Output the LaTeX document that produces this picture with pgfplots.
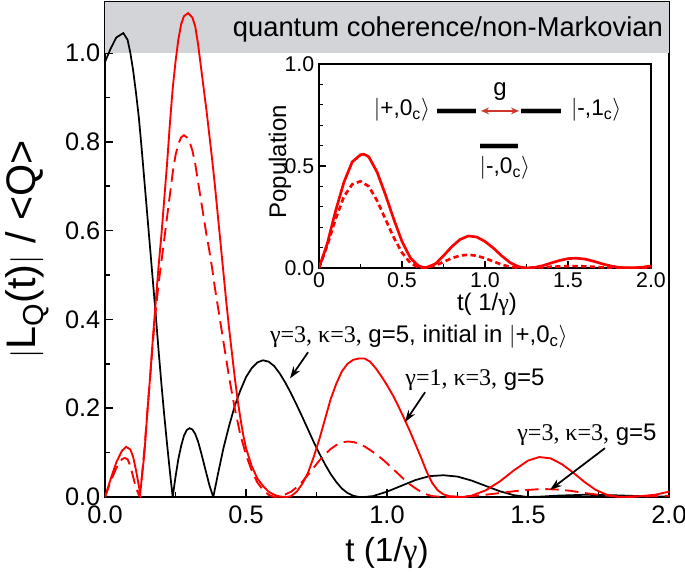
\documentclass[border=0pt]{standalone}
\usepackage{fontspec}
\setmainfont{Liberation Sans}
\newfontfamily\tnr{Liberation Serif}
\usepackage{pgfplots}
\pgfplotsset{compat=1.18}
\usetikzlibrary{arrows.meta}
\definecolor{band}{RGB}{211,212,216}
\definecolor{darrow}{RGB}{205,55,45}
\newcommand{\ket}[1]{$\big|$#1$\big\rangle$}
\begin{document}
\begin{tikzpicture}
\begin{axis}[
  name=main, scale only axis, width=423pt, height=371.25pt,
  xmin=0, xmax=2, ymin=0, ymax=1.115,
  axis line style={line width=1.6pt},
  tick align=inside, xtick pos=bottom, ytick pos=left,
  xtick={0,0.5,1,1.5,2}, xticklabels={0.0,0.5,1.0,1.5,2.0},
  ytick={0,0.2,0.4,0.6,0.8,1.0}, yticklabels={0.0,0.2,0.4,0.6,0.8,1.0},
  minor xtick={0.25,0.75,1.25,1.75}, minor ytick={0.1,0.3,0.5,0.7,0.9,1.1},
  major tick length=6pt, minor tick length=4pt,
  every tick/.style={black, line width=1.2pt},
  tick label style={font=\fontsize{19}{22}\selectfont},
  xticklabel style={yshift=-3pt},
  xlabel={t (1/{\tnr γ})},
  xlabel style={font=\fontsize{25}{28}\selectfont, at={(axis description cs:0.5,-0.113)}, anchor=center},
  ylabel={$|$L\textsubscript{Q}(t)$|$ / {\textless}Q{\textgreater}},
  ylabel style={font=\fontsize{31}{35}\selectfont, at={(axis description cs:-0.138,0.5)}, anchor=center},
]
\fill[band] (axis cs:0,1) rectangle (axis cs:2,1.115);
\node[font=\fontsize{20.5}{24}\selectfont] at (axis cs:1.216,1.054) {quantum coherence/non-Markovian};

% black: gamma=3, kappa=3, g=5, initial in |+,0c>
\addplot[black, line width=1.3pt] coordinates {
(0,0.98)(0.02,1.01)(0.04,1.035)(0.065,1.045)(0.08,1.03)(0.09,1.0)(0.10,0.96)(0.11,0.91)(0.12,0.855)(0.13,0.785)(0.14,0.71)(0.15,0.635)(0.16,0.56)(0.17,0.485)(0.18,0.41)(0.19,0.33)(0.20,0.255)(0.21,0.185)(0.22,0.12)(0.23,0.058)(0.24,0.0)
(0.25,0.045)(0.26,0.085)(0.27,0.115)(0.28,0.138)(0.29,0.151)(0.30,0.155)(0.31,0.152)(0.32,0.142)(0.33,0.125)(0.34,0.102)(0.35,0.077)(0.36,0.052)(0.37,0.027)(0.384,0.0)
(0.40,0.05)(0.42,0.11)(0.44,0.16)(0.46,0.205)(0.48,0.24)(0.50,0.27)(0.52,0.29)(0.54,0.303)(0.56,0.308)(0.58,0.305)(0.60,0.295)(0.62,0.278)(0.64,0.257)(0.66,0.233)(0.68,0.207)(0.70,0.18)(0.72,0.152)(0.74,0.124)(0.76,0.098)(0.78,0.074)(0.80,0.052)(0.82,0.034)(0.84,0.019)(0.86,0.009)(0.88,0.003)(0.90,0.0)
(0.92,0.0)(0.95,0.002)(1.0,0.012)(1.05,0.025)(1.10,0.038)(1.15,0.047)(1.20,0.049)(1.25,0.046)(1.30,0.037)(1.35,0.025)(1.40,0.013)(1.45,0.004)(1.50,0.0)
(1.55,0.001)(1.6,0.003)(1.7,0.005)(1.8,0.004)(1.9,0.002)(2.0,0.001)};

% red solid: gamma=1, kappa=3, g=5
\addplot[red, line width=1.4pt] coordinates {
(0,0)(0.02,0.04)(0.04,0.078)(0.06,0.104)(0.075,0.113)(0.09,0.107)(0.10,0.09)(0.11,0.06)(0.12,0.025)(0.125,0.008)
(0.13,0.04)(0.14,0.10)(0.15,0.19)(0.16,0.27)(0.17,0.36)(0.18,0.44)(0.19,0.52)(0.20,0.59)(0.21,0.67)(0.22,0.75)(0.23,0.84)(0.24,0.92)(0.25,0.98)(0.26,1.03)(0.27,1.065)(0.28,1.083)(0.295,1.09)(0.31,1.08)(0.32,1.06)(0.33,1.02)(0.34,0.97)(0.35,0.92)(0.36,0.87)(0.37,0.815)(0.38,0.76)(0.39,0.70)(0.40,0.635)(0.41,0.57)(0.42,0.505)(0.43,0.44)(0.44,0.38)(0.45,0.325)(0.46,0.27)(0.47,0.22)(0.48,0.178)(0.49,0.14)(0.50,0.11)(0.52,0.07)(0.54,0.042)(0.56,0.025)(0.58,0.012)(0.60,0.005)(0.62,0.001)(0.645,0.0)
(0.66,0.002)(0.68,0.012)(0.70,0.03)(0.72,0.055)(0.74,0.09)(0.76,0.13)(0.78,0.175)(0.80,0.22)(0.82,0.255)(0.84,0.283)(0.86,0.30)(0.88,0.309)(0.90,0.312)(0.92,0.312)(0.94,0.305)(0.96,0.29)(0.98,0.272)(1.00,0.252)(1.02,0.23)(1.04,0.205)(1.06,0.178)(1.08,0.15)(1.10,0.12)(1.12,0.09)(1.14,0.058)(1.16,0.032)(1.18,0.015)(1.20,0.006)(1.22,0.002)(1.27,0.0)
(1.30,0.003)(1.35,0.015)(1.40,0.035)(1.45,0.060)(1.50,0.082)(1.54,0.09)(1.58,0.087)(1.62,0.074)(1.66,0.055)(1.70,0.034)(1.74,0.016)(1.78,0.005)(1.82,0.0)(1.86,0.001)(1.90,0.002)(1.95,0.005)(2.0,0.012)};

% red dashed: gamma=3, kappa=3, g=5
\addplot[red, line width=1.4pt, dash pattern=on 10pt off 5pt] coordinates {
(0,0)(0.02,0.035)(0.04,0.065)(0.06,0.085)(0.07,0.088)(0.08,0.085)(0.09,0.07)(0.10,0.045)(0.11,0.02)(0.12,0.005)
(0.13,0.04)(0.14,0.11)(0.15,0.19)(0.16,0.27)(0.17,0.35)(0.18,0.42)(0.19,0.48)(0.20,0.53)(0.21,0.58)(0.22,0.63)(0.23,0.68)(0.24,0.73)(0.25,0.77)(0.26,0.795)(0.27,0.81)(0.28,0.815)(0.29,0.81)(0.30,0.80)(0.31,0.78)(0.32,0.75)(0.33,0.71)(0.34,0.67)(0.35,0.63)(0.36,0.59)(0.37,0.555)(0.38,0.515)(0.39,0.47)(0.40,0.43)(0.41,0.39)(0.42,0.35)(0.43,0.31)(0.44,0.27)(0.45,0.235)(0.46,0.20)(0.48,0.14)(0.50,0.095)(0.52,0.06)(0.54,0.033)(0.56,0.016)(0.58,0.005)(0.60,0.0)
(0.62,0.002)(0.64,0.006)(0.66,0.012)(0.68,0.022)(0.70,0.035)(0.72,0.05)(0.74,0.066)(0.76,0.082)(0.78,0.096)(0.80,0.108)(0.82,0.117)(0.84,0.123)(0.86,0.125)(0.88,0.124)(0.90,0.12)(0.92,0.114)(0.94,0.106)(0.96,0.097)(0.98,0.087)(1.00,0.076)(1.02,0.064)(1.04,0.052)(1.06,0.04)(1.08,0.029)(1.10,0.02)(1.12,0.012)(1.14,0.006)(1.16,0.002)(1.20,0.0)
(1.25,0.0)(1.30,0.002)(1.35,0.005)(1.40,0.009)(1.45,0.013)(1.50,0.016)(1.55,0.018)(1.60,0.017)(1.65,0.014)(1.70,0.009)(1.75,0.005)(1.80,0.002)(1.85,0.0)(1.9,0.001)(2.0,0.003)};

% annotations
\node[font=\fontsize{18}{21}\selectfont] at (axis cs:1.113,0.36) {{\tnr γ=3, κ=3,} g=5, initial in \ket{+,0\textsubscript{c}}};
\draw[line width=1.3pt, -{Stealth[length=9pt,width=6pt]}] (axis cs:0.72,0.326) -- (axis cs:0.656,0.267);
\node[font=\fontsize{18}{21}\selectfont] at (axis cs:1.312,0.263) {{\tnr γ=1, κ=3,} g=5};
\draw[line width=1.3pt, -{Stealth[length=9pt,width=6pt]}] (axis cs:1.135,0.236) -- (axis cs:1.064,0.169);
\node[font=\fontsize{18}{21}\selectfont] at (axis cs:1.709,0.139) {{\tnr γ=3, κ=3,} g=5};
\draw[line width=1.3pt, -{Stealth[length=9pt,width=6pt]}] (axis cs:1.773,0.11) -- (axis cs:1.578,0.016);
\end{axis}

\begin{axis}[
  at={(160.5pt,171.75pt)}, anchor=south west,
  scale only axis, width=249pt, height=153pt,
  xmin=0, xmax=2, ymin=0, ymax=1,
  axis background/.style={fill=white},
  axis line style={line width=1.4pt},
  tick align=inside, xtick pos=bottom, ytick pos=left,
  xtick={0,0.5,1,1.5,2}, xticklabels={0,0.5,1.0,1.5,2.0},
  ytick={0,0.5,1}, yticklabels={0.0,0.5,1.0},
  minor xtick={0.25,0.75,1.25,1.75}, minor ytick={0.1,0.2,0.3,0.4,0.6,0.7,0.8,0.9},
  major tick length=5pt, minor tick length=3pt,
  every tick/.style={black, line width=1pt},
  tick label style={font=\fontsize{16}{19}\selectfont},
  xlabel={t( 1/{\tnr γ})},
  xlabel style={font=\fontsize{18}{21}\selectfont, at={(axis description cs:0.506,-0.178)}, anchor=center},
  ylabel={Population},
  ylabel style={font=\fontsize{18}{21}\selectfont, at={(axis description cs:-0.118,0.52)}, anchor=center},
]
\addplot[red, line width=2pt] coordinates {
(0,0)(0.05,0.12)(0.10,0.28)(0.15,0.42)(0.20,0.52)(0.25,0.555)(0.27,0.558)(0.30,0.545)(0.35,0.47)(0.40,0.36)(0.45,0.24)(0.50,0.13)(0.55,0.05)(0.60,0.01)(0.64,0.0)(0.70,0.02)(0.75,0.06)(0.80,0.105)(0.85,0.14)(0.90,0.157)(0.95,0.152)(1.00,0.13)(1.05,0.098)(1.10,0.06)(1.15,0.027)(1.20,0.007)(1.25,0.0)(1.30,0.003)(1.35,0.012)(1.40,0.025)(1.45,0.037)(1.50,0.046)(1.55,0.048)(1.60,0.044)(1.65,0.034)(1.70,0.022)(1.75,0.011)(1.80,0.004)(1.85,0.001)(1.90,0.001)(1.95,0.004)(2.0,0.01)};
\addplot[red, line width=2pt, dash pattern=on 4pt off 2.5pt] coordinates {
(0,0)(0.05,0.11)(0.10,0.24)(0.15,0.35)(0.20,0.41)(0.25,0.425)(0.30,0.40)(0.35,0.33)(0.40,0.24)(0.45,0.15)(0.50,0.075)(0.55,0.025)(0.60,0.002)(0.65,0.003)(0.70,0.012)(0.75,0.03)(0.80,0.048)(0.85,0.061)(0.90,0.065)(0.95,0.06)(1.00,0.048)(1.05,0.032)(1.10,0.017)(1.15,0.006)(1.20,0.001)(1.25,0.0)(1.30,0.002)(1.40,0.006)(1.50,0.009)(1.55,0.009)(1.60,0.008)(1.70,0.004)(1.80,0.001)(1.90,0.0)(2.0,0.002)};
% level diagram
\draw[black!25, line width=5pt] (axis cs:0.71,0.77) -- (axis cs:0.946,0.77);
\draw[black, line width=2.6pt] (axis cs:0.71,0.77) -- (axis cs:0.946,0.77);
\draw[black!25, line width=5pt] (axis cs:1.217,0.77) -- (axis cs:1.458,0.77);
\draw[black, line width=2.6pt] (axis cs:1.217,0.77) -- (axis cs:1.458,0.77);
\draw[black!25, line width=5pt] (axis cs:0.97,0.598) -- (axis cs:1.2,0.598);
\draw[black, line width=2.6pt] (axis cs:0.97,0.598) -- (axis cs:1.2,0.598);
\draw[darrow, line width=1.3pt, {Stealth[length=6pt,width=5pt]}-{Stealth[length=6pt,width=5pt]}] (axis cs:0.976,0.77) -- (axis cs:1.205,0.77);
\node[font=\fontsize{18}{21}\selectfont] at (axis cs:1.09,0.863) {g};
\node[font=\fontsize{17}{20}\selectfont] at (axis cs:0.50,0.775) {\ket{+,0\textsubscript{c}}};
\node[font=\fontsize{17}{20}\selectfont] at (axis cs:1.67,0.775) {\ket{-,1\textsubscript{c}}};
\node[font=\fontsize{17}{20}\selectfont] at (axis cs:1.12,0.49) {\ket{-,0\textsubscript{c}}};
\end{axis}
\pgfresetboundingbox
\path[use as bounding box] (-78.75pt,-61.5pt) rectangle (435pt,372.75pt);
\end{tikzpicture}
\end{document}
